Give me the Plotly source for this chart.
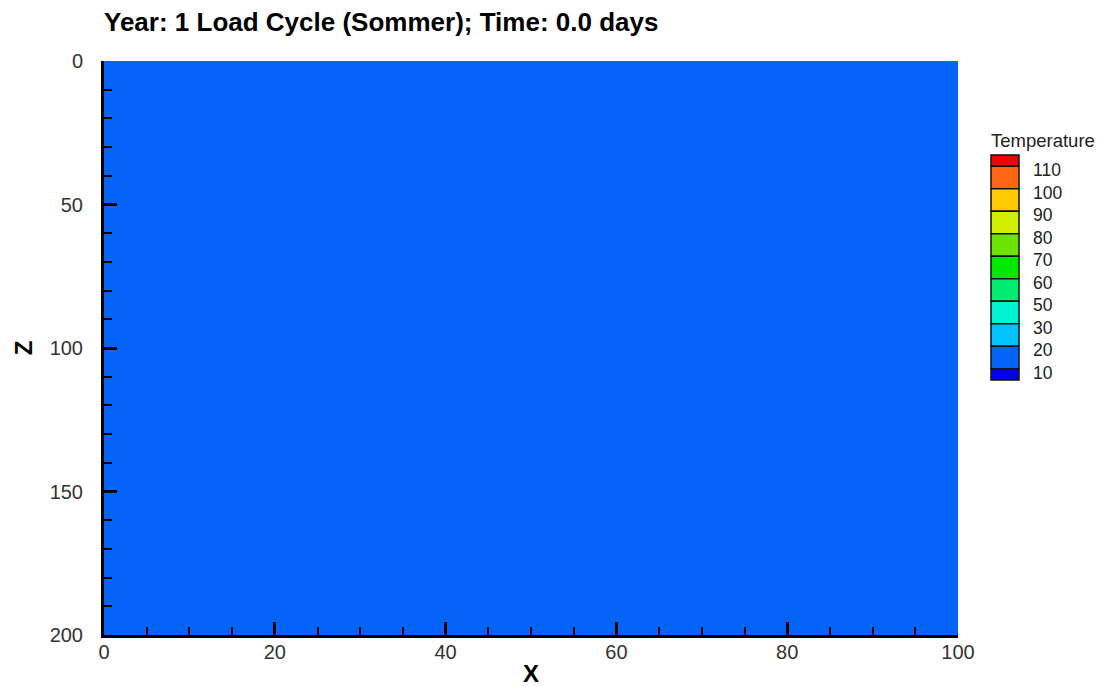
import plotly.graph_objects as go

# ---- data ----
x_edges = [0, 100]
z_edges = [0, 200]
temperature_field = [[15]]          # uniform initial temperature (10-20 band)

levels = [10, 20, 30, 50, 60, 70, 80, 90, 100, 110]
band_colors = ["#0000ee", "#0564f8", "#00c4ff", "#00f4d4", "#00ec70",
               "#00e800", "#6ce400", "#d0f000", "#ffc800", "#ff6410", "#f00000"]
x_ticks = [0, 20, 40, 60, 80, 100]
z_ticks = [0, 50, 100, 150, 200]
title_text = "Year: 1 Load Cycle (Sommer); Time: 0.0 days"

# ---- geometry (pixels) ----
W, H = 1100, 687
L, R, T, B = 104, 958, 61, 635
zmin, zmax = 0, 120

def norm(v):
    return (v - zmin) / (zmax - zmin)

bounds = [zmin] + levels + [zmax]
colorscale = []
for i, c in enumerate(band_colors):
    colorscale.append([norm(bounds[i]), c])
    colorscale.append([norm(bounds[i + 1]), c])

fig = go.Figure()
fig.add_trace(go.Heatmap(x=x_edges, y=z_edges, z=temperature_field,
                         colorscale=colorscale, zmin=zmin, zmax=zmax,
                         showscale=False, hoverinfo="skip"))

font_family = "Liberation Sans, Arial, sans-serif"
axis_common = dict(
    showgrid=False, zeroline=False, showline=True, linecolor="black",
    linewidth=3, ticks="inside", ticklen=13, tickwidth=2.5, tickcolor="black",
    tickfont=dict(family=font_family, size=20, color="#333333"),
    mirror=False, layer="above traces", automargin=False,
)

fig.update_xaxes(range=[0, 100], tickvals=x_ticks, ticklabelstandoff=-3,
                 minor=dict(dtick=5, ticks="inside", ticklen=8, tickwidth=1.5, tickcolor="black"),
                 title=dict(text="<b>X</b>", font=dict(family=font_family, size=24, color="black"), standoff=12),
                 **axis_common)
fig.update_yaxes(range=[200, 0], tickvals=z_ticks, ticklabelstandoff=14,
                 minor=dict(dtick=10, ticks="inside", ticklen=8, tickwidth=1.5, tickcolor="black"),
                 title=dict(text="<b>Z</b>", font=dict(family=font_family, size=24, color="black"), standoff=11),
                 **axis_common)

# ---- legend drawn as boxes ----
ph = B - T
pw = R - L
def px_x(p):
    return (p - L) / pw
def px_y(p):
    return (B - p) / ph

box_x0, box_x1 = 991, 1019
top_px, bot_px = 155, 380
n_full = len(levels) - 1           # full-height boxes between labels
unit = (bot_px - top_px) / (n_full + 1)   # top & bottom boxes are half height
shapes = []
annotations = []
boundary_px = [top_px + unit / 2 + k * unit for k in range(len(levels))]
edges_px = [top_px] + boundary_px + [bot_px]
colors_top_down = list(reversed(band_colors))
labels_top_down = list(reversed(levels))
for i, c in enumerate(colors_top_down):
    shapes.append(dict(type="rect", xref="paper", yref="paper",
                       x0=px_x(box_x0), x1=px_x(box_x1),
                       y0=px_y(edges_px[i + 1]), y1=px_y(edges_px[i]),
                       fillcolor=c, line=dict(color="#111111", width=1.5)))
for lab, bp in zip(labels_top_down, boundary_px):
    annotations.append(dict(xref="paper", yref="paper", x=px_x(1031), y=px_y(bp + 4),
                            text=str(lab), showarrow=False, xanchor="left", yanchor="middle",
                            font=dict(family=font_family, size=17.5, color="#222222")))
annotations.append(dict(xref="paper", yref="paper", x=px_x(989), y=px_y(140),
                        text="Temperature", showarrow=False, xanchor="left", yanchor="middle",
                        font=dict(family=font_family, size=18.5, color="#222222")))

fig.update_layout(
    width=W, height=H,
    margin=dict(l=L, r=W - R, t=T, b=H - B),
    paper_bgcolor="white", plot_bgcolor="white",
    title=dict(text="<b>" + title_text + "</b>", xref="container", yref="container",
               x=L / W, y=1 - 22 / H, xanchor="left", yanchor="middle",
               font=dict(family=font_family, size=26, color="black")),
    shapes=shapes, annotations=annotations, showlegend=False,
)

fig.write_html("out.html")
